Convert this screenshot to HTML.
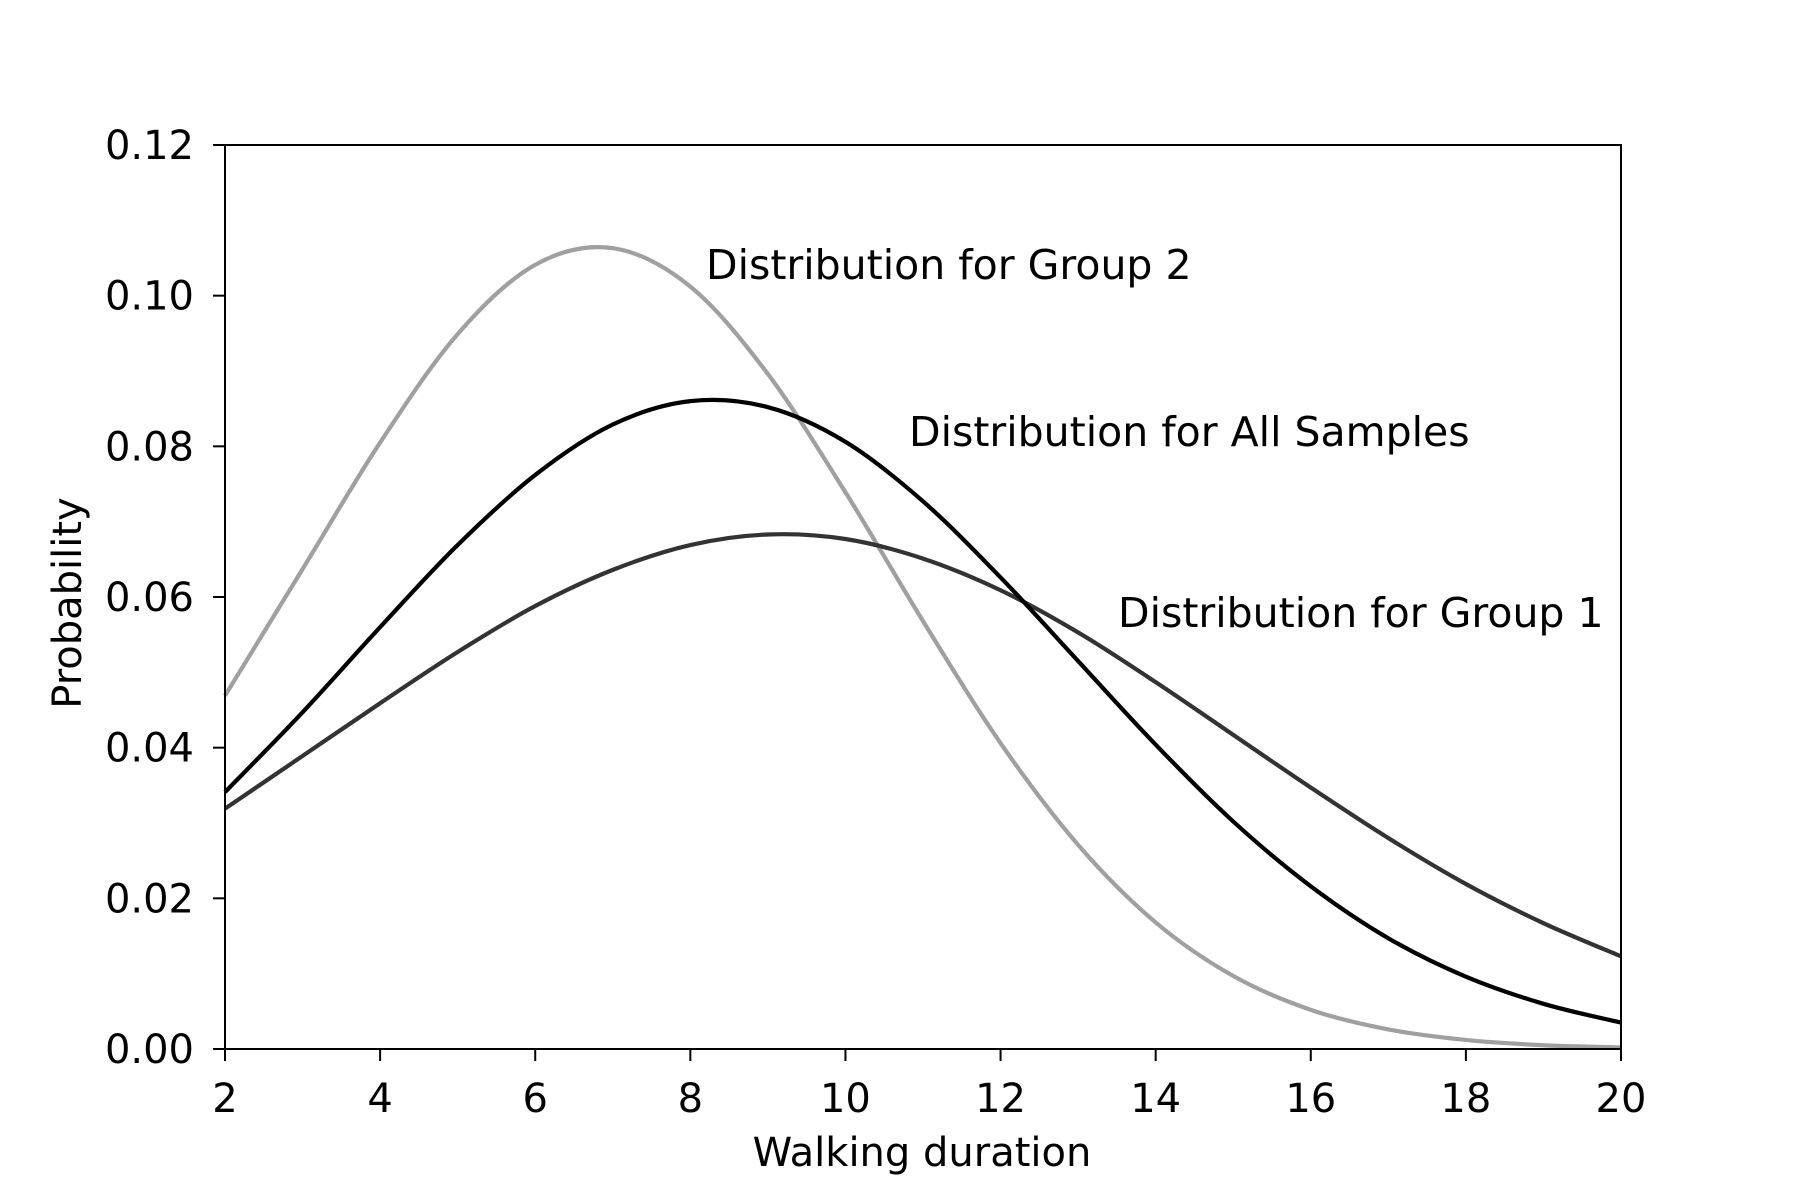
<!DOCTYPE html>
<html><head><meta charset="utf-8"><style>
html,body{margin:0;padding:0;background:#fff}
svg{display:block}
text{font-family:"DejaVu Sans","Liberation Sans",sans-serif;fill:#000}
</style></head><body>
<svg id="chart" width="1800" height="1200" viewBox="0 0 1800 1200" xmlns="http://www.w3.org/2000/svg">
<rect x="0" y="0" width="1800" height="1200" fill="#fff"/>
<g id="series"></g>
<g id="axes"></g>
<text x="706" y="279" font-size="41">Distribution for Group 2</text>
<text x="909" y="446" font-size="41">Distribution for All Samples</text>
<text x="1118" y="627" font-size="41">Distribution for Group 1</text>
<text x="922" y="1166" font-size="40" text-anchor="middle">Walking duration</text>
<text x="0" y="0" font-size="40" text-anchor="middle" transform="translate(81,603) rotate(-90)">Probability</text>
</svg>
<script>
const xValues = [2,3,4,5,6,7,8,9,10,11,12,13,14,15,16,17,18,19,20];
const group2Values = [0.0469,0.0637,0.0805,0.0949,0.1041,0.1063,0.1012,0.0896,0.0739,0.0568,0.0406,0.0271,0.0168,0.0097,0.0052,0.0026,0.0012,0.0005,0.0002];
const allValues = [0.0341,0.0447,0.0560,0.0669,0.0762,0.0829,0.0860,0.0852,0.0806,0.0727,0.0626,0.0515,0.0404,0.0302,0.0216,0.0147,0.0096,0.0060,0.0035];
const group1Values = [0.0319,0.0389,0.0459,0.0527,0.0588,0.0636,0.0669,0.0683,0.0677,0.0651,0.0609,0.0553,0.0487,0.0417,0.0347,0.0280,0.0219,0.0167,0.0123];
const xTicks = [2,4,6,8,10,12,14,16,18,20];
const yTicks = [0,0.02,0.04,0.06,0.08,0.10,0.12];
const yTickLabels = ["0.00","0.02","0.04","0.06","0.08","0.10","0.12"];

const L=225,R=1621,T=145,B=1049;
const xMin=2,xMax=20,yMin=0,yMax=0.12;
function xs(v){return L+(v-xMin)/(xMax-xMin)*(R-L);}
function ys(v){return B-(v-yMin)/(yMax-yMin)*(B-T);}
const NS="http://www.w3.org/2000/svg";
const series=document.getElementById('series');
const axes=document.getElementById('axes');

function smoothPath(xsArr,vals){
  const p=xsArr.map((x,i)=>[xs(x),ys(vals[i])]);
  let d='M'+p[0][0].toFixed(2)+','+p[0][1].toFixed(2);
  for(let i=0;i<p.length-1;i++){
    const p0=p[i-1]||p[i],p1=p[i],p2=p[i+1],p3=p[i+2]||p[i+1];
    const c1=[p1[0]+(p2[0]-p0[0])/6,p1[1]+(p2[1]-p0[1])/6];
    const c2=[p2[0]-(p3[0]-p1[0])/6,p2[1]-(p3[1]-p1[1])/6];
    d+=' C'+c1[0].toFixed(2)+','+c1[1].toFixed(2)+' '+c2[0].toFixed(2)+','+c2[1].toFixed(2)+' '+p2[0].toFixed(2)+','+p2[1].toFixed(2);
  }
  return d;
}
function addLine(vals,color,name){
  const el=document.createElementNS(NS,'path');
  el.setAttribute('d',smoothPath(xValues,vals));
  el.setAttribute('fill','none');
  el.setAttribute('stroke',color);
  el.setAttribute('stroke-width','4.2');
  el.setAttribute('stroke-linejoin','round');
  
  
  series.appendChild(el);
}
addLine(group2Values,'#a0a0a0','line-group-2');
addLine(group1Values,'#333333','line-group-1');
addLine(allValues,'#000000','line-all-samples');

const frame=document.createElementNS(NS,'rect');
frame.setAttribute('x',L);frame.setAttribute('y',T);
frame.setAttribute('width',R-L);frame.setAttribute('height',B-T);
frame.setAttribute('fill','none');frame.setAttribute('stroke','#000');frame.setAttribute('stroke-width','2');


axes.appendChild(frame);

xTicks.forEach(v=>{
  const t=document.createElementNS(NS,'line');
  t.setAttribute('x1',xs(v));t.setAttribute('x2',xs(v));
  t.setAttribute('y1',B);t.setAttribute('y2',B+12);
  t.setAttribute('stroke','#000');t.setAttribute('stroke-width','2');
  
  
  axes.appendChild(t);
  const tx=document.createElementNS(NS,'text');
  tx.setAttribute('x',xs(v));tx.setAttribute('y',1112);
  tx.setAttribute('font-size','40');tx.setAttribute('text-anchor','middle');
  tx.textContent=String(v);
  
  
  axes.appendChild(tx);
});
yTicks.forEach((v,i)=>{
  const t=document.createElementNS(NS,'line');
  t.setAttribute('x1',L-12);t.setAttribute('x2',L);
  t.setAttribute('y1',ys(v));t.setAttribute('y2',ys(v));
  t.setAttribute('stroke','#000');t.setAttribute('stroke-width','2');
  
  
  axes.appendChild(t);
  const tx=document.createElementNS(NS,'text');
  tx.setAttribute('x',194);tx.setAttribute('y',ys(v)+14);
  tx.setAttribute('font-size','40');tx.setAttribute('text-anchor','end');
  tx.textContent=yTickLabels[i];
  
  
  axes.appendChild(tx);
});
</script>
</body></html>
